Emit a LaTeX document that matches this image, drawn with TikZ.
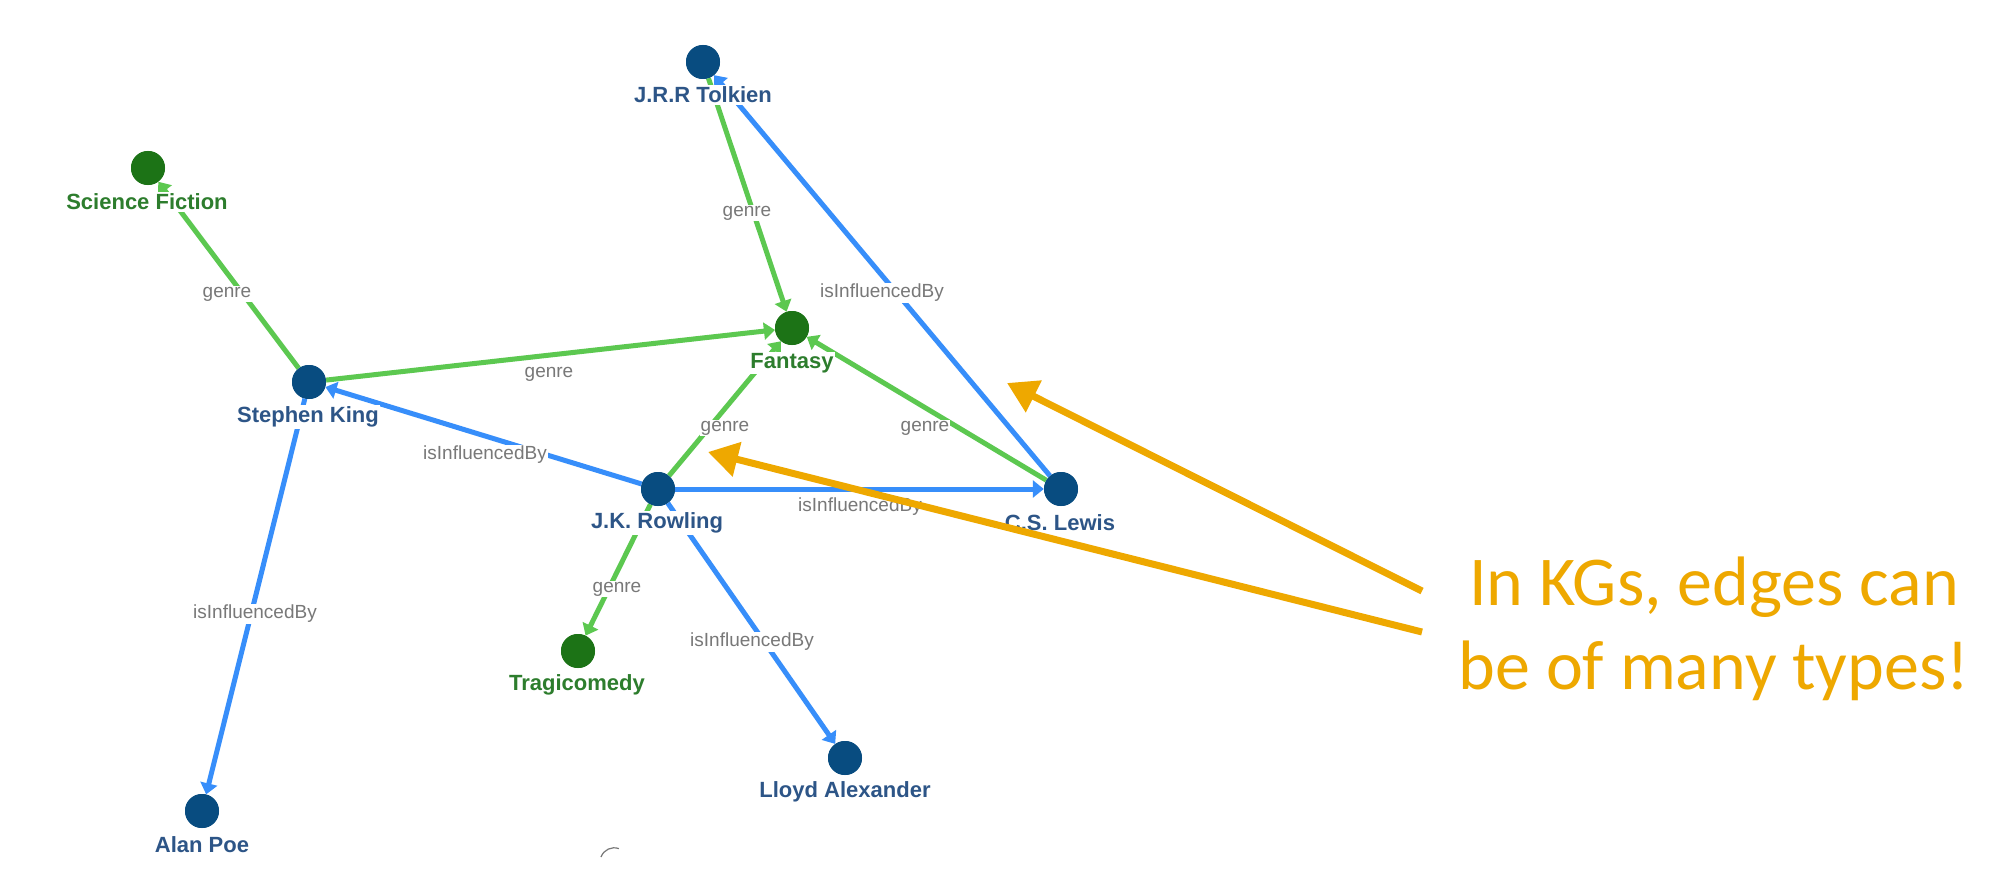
\documentclass[tikz,border=0pt]{standalone}
\usepackage{fontspec}
\usetikzlibrary{arrows.meta}
\newfontfamily\helv{Liberation Sans}
\newfontfamily\calib{Carlito}
\definecolor{pblue}{RGB}{8,76,128}
\definecolor{pgreen}{RGB}{28,115,22}
\definecolor{lblue}{RGB}{45,85,135}
\definecolor{lgreen}{RGB}{45,125,45}
\definecolor{eblue}{RGB}{55,142,250}
\definecolor{egreen}{RGB}{92,200,80}
\definecolor{egray}{RGB}{120,120,120}
\definecolor{korange}{RGB}{238,168,0}
\tikzset{
  person/.style={circle,fill=pblue,minimum size=34pt,inner sep=0pt},
  genrenode/.style={circle,fill=pgreen,minimum size=34pt,inner sep=0pt},
  plabel/.style={fill=white,inner sep=1.5pt,text=lblue,font=\helv\bfseries\fontsize{22}{24}\selectfont},
  glabel/.style={fill=white,inner sep=1.5pt,text=lgreen,font=\helv\bfseries\fontsize{22}{24}\selectfont},
  elabel/.style={fill=white,inner sep=1pt,text=egray,font=\helv\fontsize{19}{21}\selectfont},
  genreedge/.style={draw=egreen,line width=5pt,-{Triangle[length=11pt,width=17pt]}},
  infedge/.style={draw=eblue,line width=5pt,-{Triangle[length=11pt,width=17pt]}},
  callout/.style={draw=korange,line width=7pt,-{Triangle[length=30pt,width=34pt]}}
}
\begin{document}
\begin{tikzpicture}[x=1pt,y=-1pt]
\useasboundingbox[fill=white] (0,0) rectangle (2000,880);
% nodes
\node[person] (tolkien) at (703,62) {};
\node[genrenode] (scifi) at (148,168) {};
\node[genrenode] (fantasy) at (792,328) {};
\node[person] (king) at (309,382) {};
\node[person] (rowling) at (658,489) {};
\node[person] (lewis) at (1061,489) {};
\node[genrenode] (tragi) at (578,651) {};
\node[person] (lloyd) at (845,758) {};
\node[person] (poe) at (202,811) {};
% edges
\draw[genreedge] (tolkien) -- (fantasy);
\draw[genreedge] (king) -- (scifi);
\draw[genreedge] (king) -- (fantasy);
\draw[genreedge] (lewis) -- (fantasy);
\draw[genreedge] (rowling) -- (fantasy);
\draw[genreedge] (rowling) -- (tragi);
\draw[infedge] (lewis) -- (tolkien);
\draw[infedge] (rowling) -- (king);
\draw[infedge] (rowling) -- (lewis);
\draw[infedge] (king) -- (poe);
\draw[infedge] (rowling) -- (lloyd);
% redraw circles on top
\node[person] at (tolkien) {};
\node[genrenode] at (scifi) {};
\node[genrenode] at (fantasy) {};
\node[person] at (king) {};
\node[person] at (rowling) {};
\node[person] at (lewis) {};
\node[genrenode] at (tragi) {};
\node[person] at (lloyd) {};
\node[person] at (poe) {};
% edge labels
\node[elabel] (l1) at (747,213) {genre};
\node[elabel] (l2) at (227,294) {genre};
\node[elabel] (l3) at (549,374) {genre};
\node[elabel] (l4) at (725,428) {genre};
\node[elabel] (l5) at (925,428) {genre};
\node[elabel] (l6) at (617,589) {genre};
\node[elabel] (l7) at (882,293) {isInfluencedBy};
\node[elabel] (l8) at (485,455) {isInfluencedBy};
\node[elabel] (l9) at (860,507) {isInfluencedBy};
\node[elabel] (l10) at (255,614) {isInfluencedBy};
\node[elabel] (l11) at (752,642) {isInfluencedBy};
% node labels
\node[plabel] (tolkienL) at (703,95) {J.R.R Tolkien};
\node[glabel] (scifiL) at (147,202) {Science Fiction};
\node[glabel] (fantasyL) at (792,363) {Fantasy};
\node[plabel] (kingL) at (308,417) {Stephen King};
\node[plabel] (rowlingL) at (657,523) {J.K. Rowling};
\node[plabel] (lewisL) at (1060,523) {C.S. Lewis};
\node[glabel] (tragiL) at (577,685) {Tragicomedy};
\node[plabel] (lloydL) at (845,792) {Lloyd Alexander};
\node[plabel] (poeL) at (202,845) {Alan Poe};
% small grey artifact
\draw[egray,line width=1.2pt] (601,857) arc[start angle=200,end angle=290,radius=14];
% callout
\coordinate (a1s) at (1422,591);
\coordinate (a1t) at (1007,383);
\coordinate (a2s) at (1422,632);
\coordinate (a2t) at (708,452);
\draw[callout] (a1s) -- (a1t);
\draw[callout] (a2s) -- (a2t);
\node[text=korange,font=\calib\fontsize{70}{84}\selectfont,align=center,inner sep=0pt] (kg) at (1714,629) {In KGs, edges can\\be of many types!};
\end{tikzpicture}
\end{document}
